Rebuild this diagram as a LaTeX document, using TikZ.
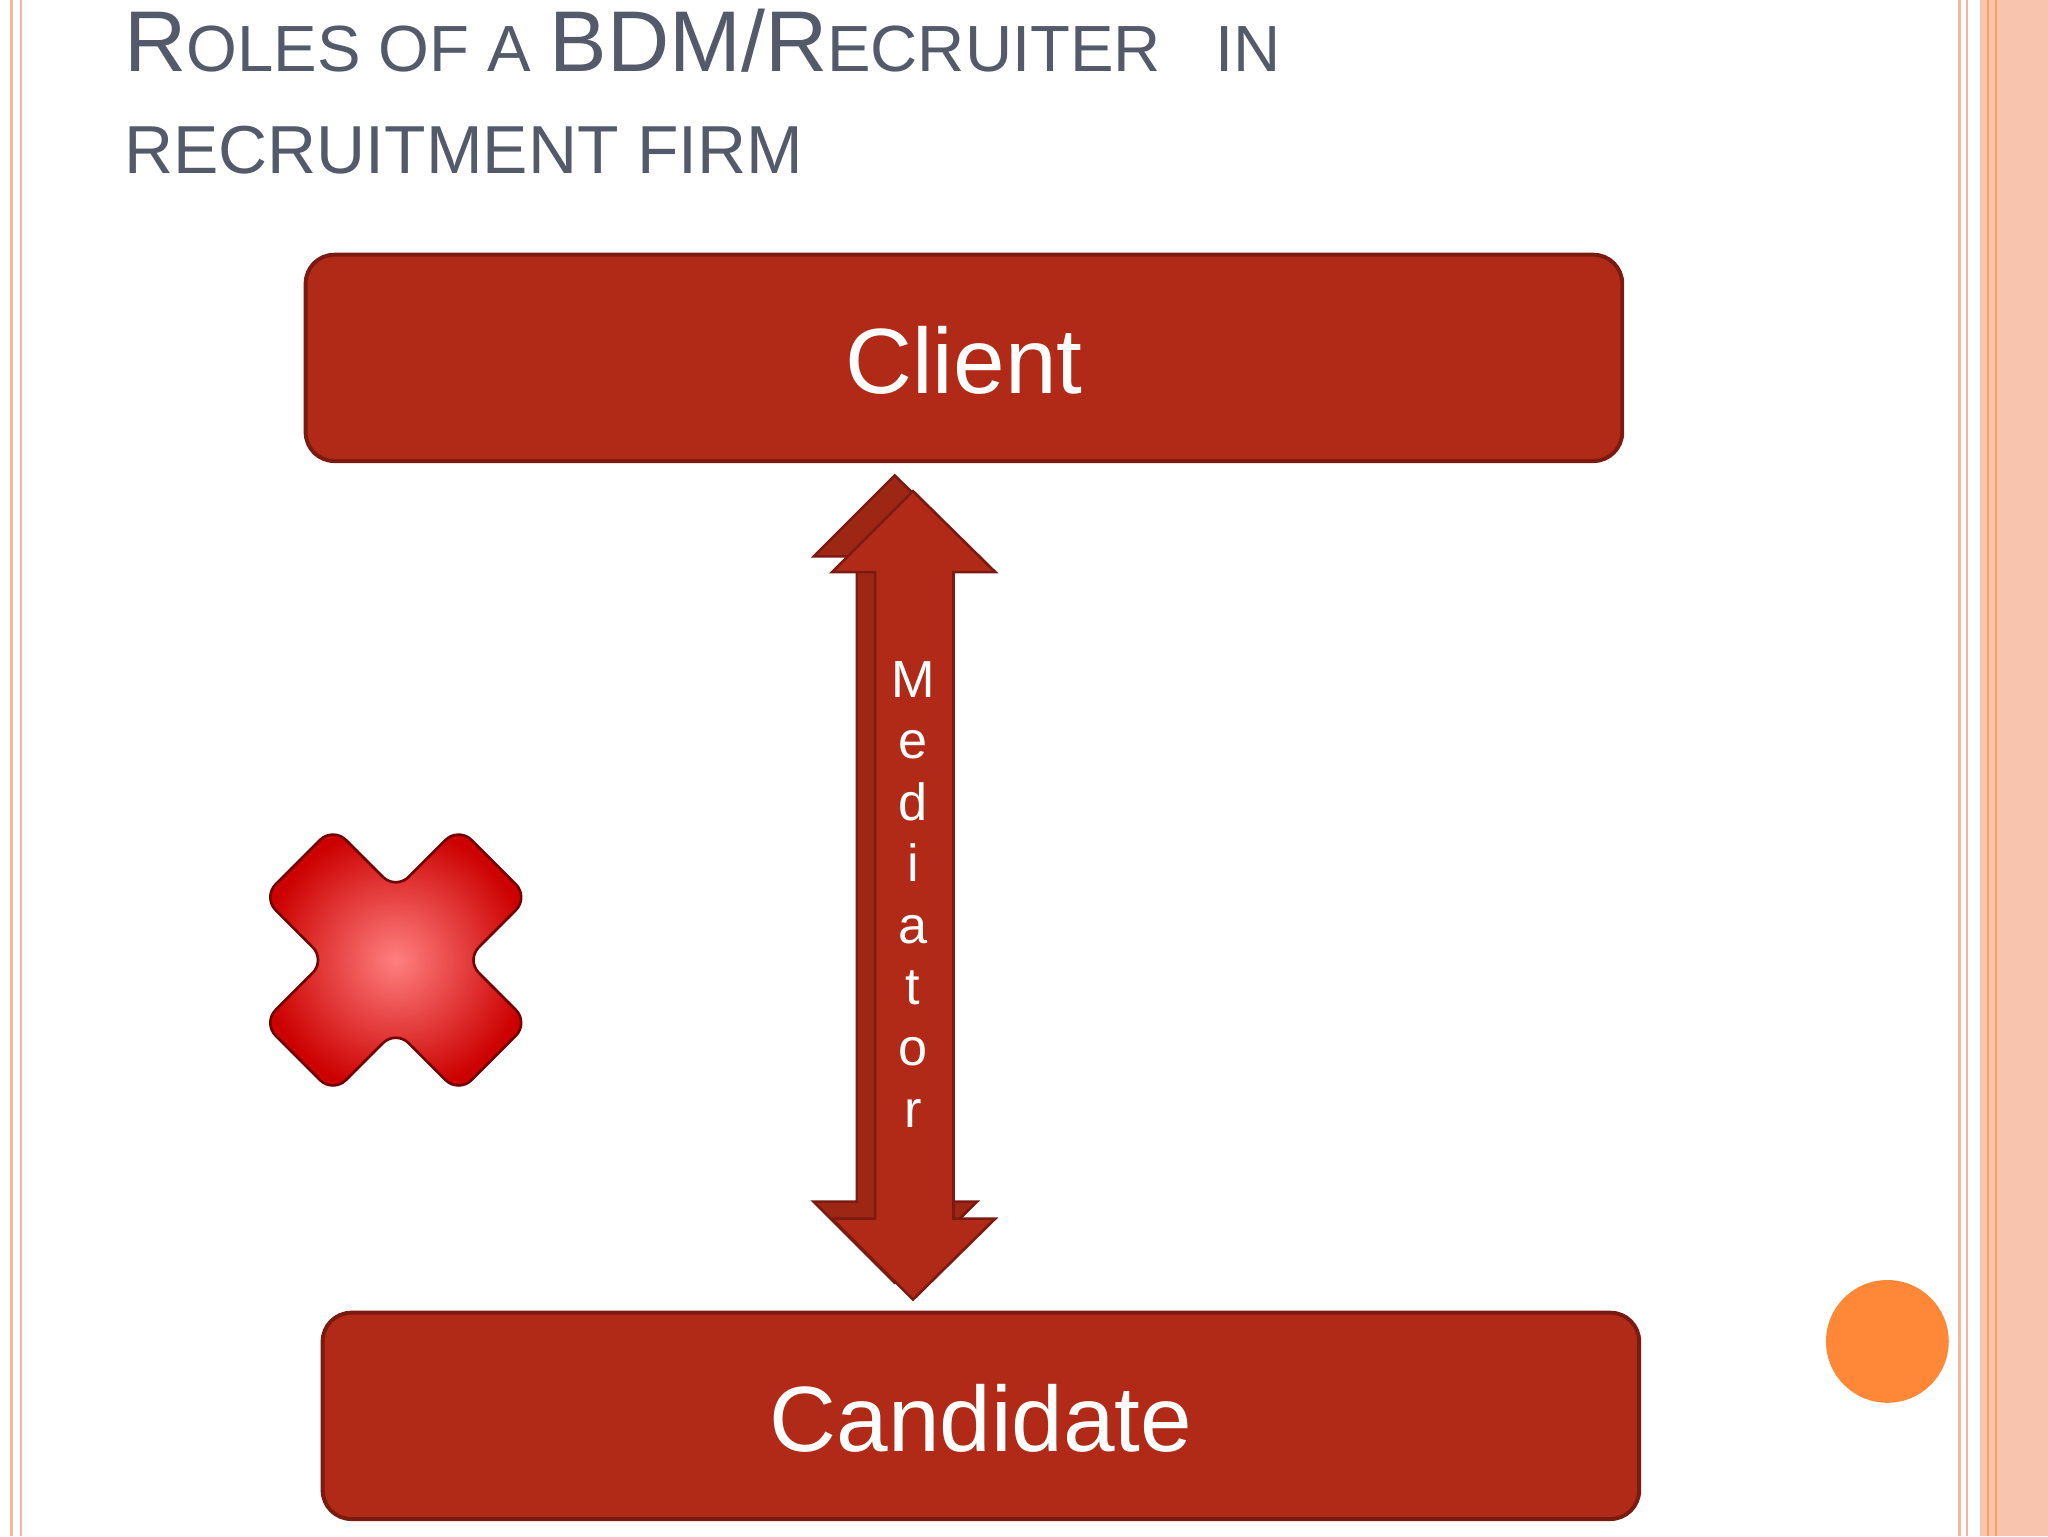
\documentclass[tikz,border=0pt]{standalone}
\usepackage{fontspec}
\setmainfont{Liberation Sans}
\begin{document}
\begin{tikzpicture}[x=1pt,y=-1pt,
  box/.style={draw=boxedge,line width=3pt,fill=boxred,rounded corners=22pt},
  boxtxt/.style={text=white,font=\fontsize{71}{80}\selectfont},
  ttl/.style={text=titlegray,anchor=base west,inner sep=0pt}]
\definecolor{boxred}{HTML}{B02A17}
\definecolor{boxedge}{HTML}{7A1A10}
\definecolor{titlegray}{HTML}{555A6B}
\definecolor{salmon}{HTML}{F8B59A}
\definecolor{orng}{HTML}{FF8838}
\useasboundingbox (0,0) rectangle (1568,1176);
\fill[white] (0,0) rectangle (1568,1176);
% borders
\draw[salmon,line width=2pt] (9,0) -- (9,1176);
\draw[salmon,line width=2pt] (16,0) -- (16,1176);
\draw[salmon,line width=2pt] (1500,0) -- (1500,1176);
\draw[salmon,line width=1pt] (1506,0) -- (1506,1176);
\fill[salmon!80] (1516,0) rectangle (1568,1176);
\draw[salmon!60!orange,line width=1.5pt] (1522,0) -- (1522,1176);
\draw[salmon!60!orange,line width=1.5pt] (1528,0) -- (1528,1176);
% title
\node[ttl] (t1) at (95,55) {\fontsize{66}{70}\selectfont R\fontsize{50}{52}\selectfont OLES OF A \fontsize{66}{70}\selectfont BDM/R\fontsize{50}{52}\selectfont ECRUITER \ \ IN};
\node[ttl] (t2) at (95,133) {\fontsize{52}{52}\selectfont RECRUITMENT FIRM};
% boxes
\draw[box] (234,195) rectangle (1242,353);
\node[boxtxt] (client) at (738,276) {Client};
\draw[box] (247,1005) rectangle (1255,1163);
\node[boxtxt] (cand) at (751,1086) {Candidate};
% arrow shadow
\draw[fill=boxred!90!black,draw=boxedge,line width=2pt] (685,364) -- (748,426) -- (716,426) -- (716,920) -- (748,920) -- (685,982) -- (623,920) -- (656,920) -- (656,426) -- (623,426) -- cycle;
\draw[fill=boxred,draw=boxedge,line width=2pt] (699,376) -- (762,438) -- (730,438) -- (730,933) -- (762,933) -- (699,995) -- (637,933) -- (670,933) -- (670,438) -- (637,438) -- cycle;
\node[text=white,font=\fontsize{40}{47}\selectfont,align=center,anchor=north] (med) at (699,503) {M\\e\\d\\i\\a\\t\\o\\r};
% red X
\begin{scope}[shift={(303,735)},rotate=45]
\shade[inner color=red!50!white,outer color=red!80!black,draw=red!45!black,line width=2pt,rounded corners=14pt]
 (-38,-106) -- (38,-106) -- (38,-38) -- (106,-38) -- (106,38) -- (38,38) -- (38,106) -- (-38,106) -- (-38,38) -- (-106,38) -- (-106,-38) -- (-38,-38) -- cycle;
\end{scope}
% orange dot
\fill[orng] (1445,1027) circle (47);
\end{tikzpicture}
\end{document}
